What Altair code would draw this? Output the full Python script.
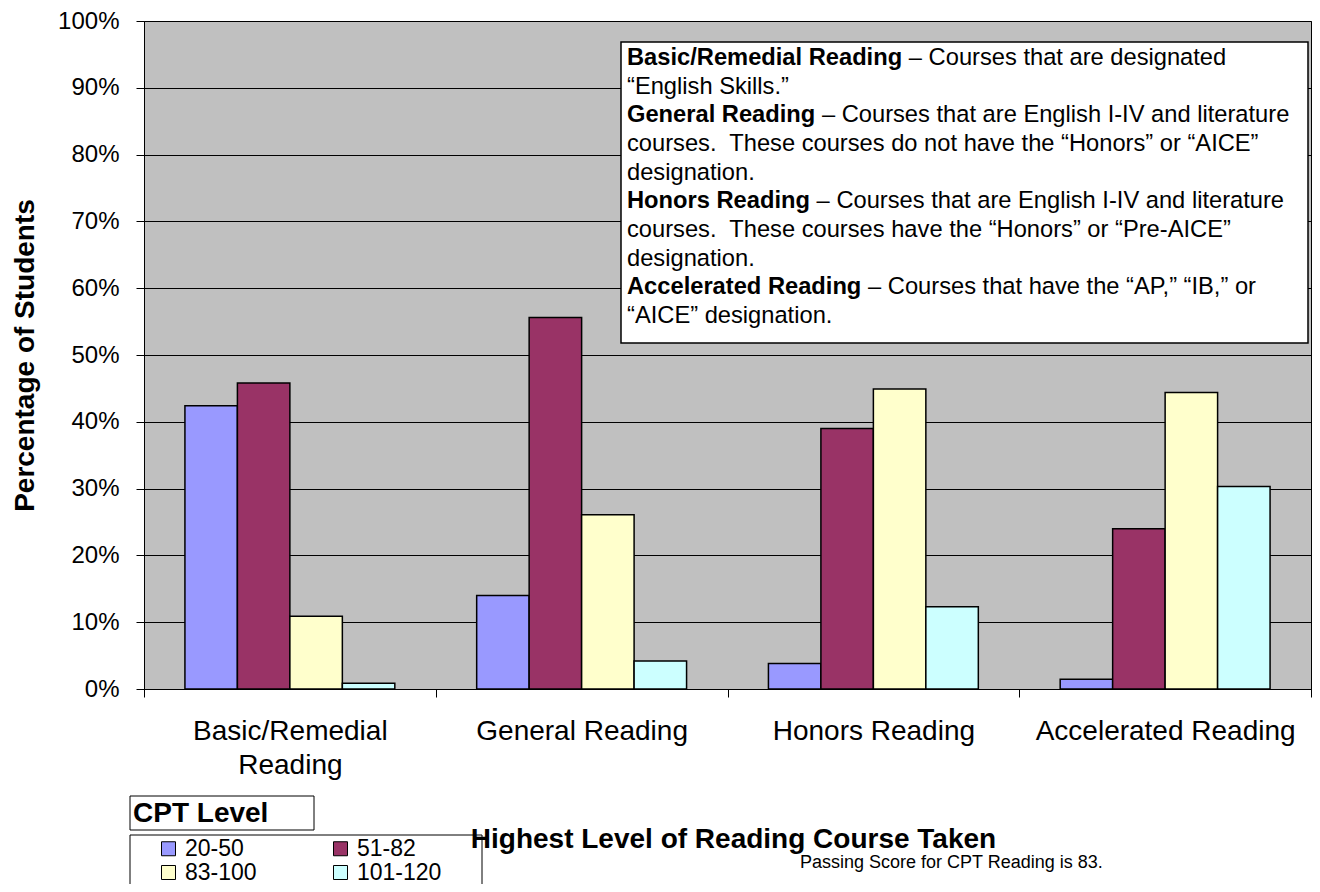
import altair as alt
import pandas as pd

categories = ["Basic/Remedial Reading", "General Reading", "Honors Reading", "Accelerated Reading"]
levels = ["20-50", "51-82", "83-100", "101-120"]
level_20_50 = [42.4, 14.0, 3.8, 1.45]
level_51_82 = [45.8, 55.6, 39.0, 24.0]
level_83_100 = [10.9, 26.1, 44.9, 44.4]
level_101_120 = [0.85, 4.2, 12.3, 30.3]
colors = ["#9999FF", "#993366", "#FFFFCC", "#CCFFFF"]

FONT = "Liberation Sans, Arial, Helvetica, sans-serif"

rows = []
for lvl, series in zip(levels, [level_20_50, level_51_82, level_83_100, level_101_120]):
    for cat, v in zip(categories, series):
        rows.append({"course": cat, "level": lvl, "pct": v / 100.0})
df = pd.DataFrame(rows)

W, H = 1167, 668
OX = 144  # page x of plot origin

bars = alt.Chart(df).mark_bar(stroke="black", strokeWidth=1.5, opacity=1).encode(
    x=alt.X(
        "course:N",
        sort=categories,
        scale=alt.Scale(paddingInner=0, paddingOuter=0),
        axis=alt.Axis(
            title="Highest Level of Reading Course Taken",
            titleFont=FONT, titleFontSize=28, titleFontWeight="bold", titleColor="black",
            titleX=733 - OX, titleY=150, titleBaseline="middle", titleAlign="center",
            labelFont=FONT, labelFontSize=28, labelColor="black", labelAngle=0,
            labelPadding=20, labelLineHeight=34, labelLimit=400,
            labelExpr="datum.value == 'Basic/Remedial Reading' ? ['Basic/Remedial', 'Reading'] : datum.label",
            tickBand="extent", tickSize=8, tickColor="black", domainColor="black",
            grid=False,
        ),
    ),
    xOffset=alt.XOffset("level:N", sort=levels, scale=alt.Scale(paddingInner=0, paddingOuter=0.78)),
    y=alt.Y(
        "pct:Q",
        scale=alt.Scale(domain=[0, 1], nice=False),
        axis=alt.Axis(
            values=[i / 10 for i in range(11)], format=".0%",
            title="Percentage of Students",
            titleFont=FONT, titleFontSize=28, titleFontWeight="bold", titleColor="black",
            titleX=25 - OX, titleY=334, titleAngle=270, titleBaseline="middle", titleAlign="center",
            labelFont=FONT, labelFontSize=24, labelColor="black", labelPadding=17,
            tickSize=8, tickColor="black", domainColor="black",
            grid=True, gridColor="black", gridWidth=1, gridOpacity=1,
        ),
    ),
    color=alt.Color(
        "level:N",
        sort=levels,
        scale=alt.Scale(domain=levels, range=colors),
        legend=alt.Legend(
            title=None, orient="none", legendX=157 - OX, legendY=816, columns=2, direction="horizontal",
            columnPadding=72, rowPadding=0, symbolType="square", symbolSize=196,
            symbolStrokeColor="black", symbolStrokeWidth=1, symbolOpacity=1,
            labelFont=FONT, labelFontSize=23, labelColor="black", labelOffset=5, padding=0,
        ),
    ),
)

one = pd.DataFrame({"a": [0]})
layers = [bars]

# definition box
layers.append(alt.Chart(one).mark_rect(fill="white", stroke="black", strokeWidth=1.5).encode(
    x=alt.value(621 - OX), x2=alt.value(1308 - OX), y=alt.value(21), y2=alt.value(322)))

# legend boxes
layers.append(alt.Chart(one).mark_rect(fill="white", stroke="black", strokeWidth=1).encode(
    x=alt.value(130 - OX), x2=alt.value(314 - OX), y=alt.value(775), y2=alt.value(809)))
layers.append(alt.Chart(one).mark_rect(fill="white", fillOpacity=0, stroke="black", strokeWidth=1).encode(
    x=alt.value(130 - OX), x2=alt.value(482 - OX), y=alt.value(814), y2=alt.value(880)))
layers.append(alt.Chart(one).mark_text(align="left", baseline="middle", font=FONT, fontSize=28,
                                       fontWeight="bold", color="black").encode(
    x=alt.value(133 - OX), y=alt.value(793), text=alt.value("CPT Level")))

# footer note
layers.append(alt.Chart(one).mark_text(align="left", baseline="middle", font=FONT, fontSize=18,
                                       color="black").encode(
    x=alt.value(800 - OX), y=alt.value(842), text=alt.value("Passing Score for CPT Reading is 83.")))

# definitions text
bold_w = {" ": 278, "B": 722, "a": 556, "s": 556, "i": 278, "c": 556, "/": 278, "R": 722,
          "e": 556, "m": 889, "d": 611, "l": 278, "n": 611, "g": 611, "G": 778, "r": 389,
          "H": 722, "o": 611, "A": 722, "t": 333}

def bold_width(s, fs):
    return sum(bold_w.get(ch, 600) for ch in s) * fs / 1000.0

def_lines = [
    ("Basic/Remedial Reading", "– Courses that are designated"),
    ("", "“English Skills.”"),
    ("General Reading", "– Courses that are English I-IV and literature"),
    ("", "courses.\u00a0 These courses do not have the “Honors” or “AICE”"),
    ("", "designation."),
    ("Honors Reading", "– Courses that are English I-IV and literature"),
    ("", "courses.\u00a0 These courses have the “Honors” or “Pre-AICE”"),
    ("", "designation."),
    ("Accelerated Reading", "– Courses that have the “AP,” “IB,” or"),
    ("", "“AICE” designation."),
]
FS = 23.7
x0 = 627 - OX
for i, (b, r) in enumerate(def_lines):
    yy = 37 + i * 28.65
    xr = x0
    if b:
        layers.append(alt.Chart(one).mark_text(align="left", baseline="middle", font=FONT, fontSize=FS,
                                               fontWeight="bold", color="black").encode(
            x=alt.value(x0), y=alt.value(yy), text=alt.value(b)))
        xr = x0 + bold_width(b, FS) + 0.278 * FS
    layers.append(alt.Chart(one).mark_text(align="left", baseline="middle", font=FONT, fontSize=FS,
                                           color="black").encode(
        x=alt.value(xr), y=alt.value(yy), text=alt.value(r)))

chart = alt.layer(*layers).properties(
    width=W, height=H,
    autosize=alt.AutoSizeParams(type="none"),
    padding={"left": OX - 8, "top": 13, "right": 1, "bottom": 195},
    background="white",
).configure_view(fill="#C0C0C0", stroke="black", strokeWidth=1)

chart.save("out.html", embed_options={"renderer": "svg", "actions": False})
